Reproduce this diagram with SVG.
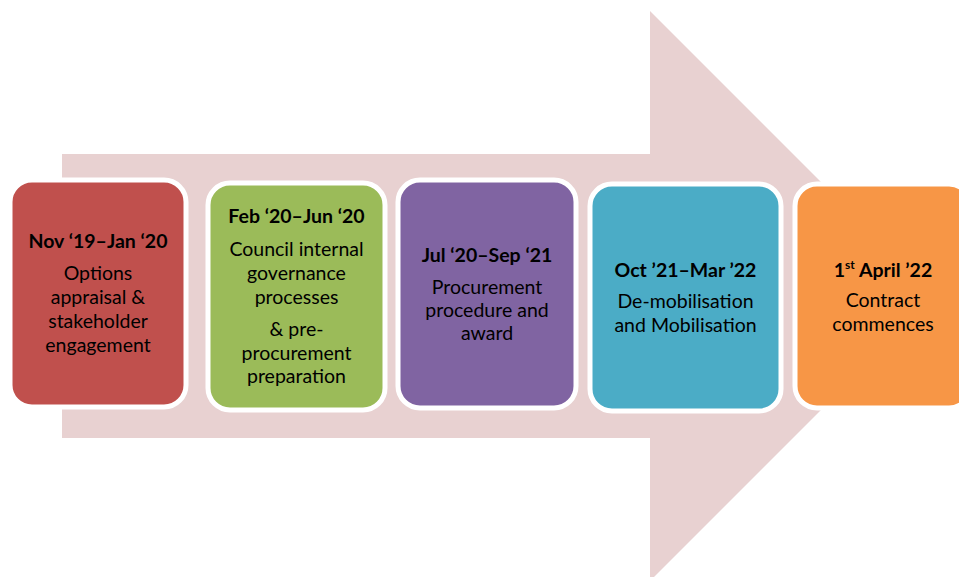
<svg xmlns="http://www.w3.org/2000/svg" width="959" height="577" viewBox="0 0 959 577">
  <style>
    .box { stroke: #ffffff; stroke-width: 5; }
    .t { font-family: Lato, "Liberation Sans", sans-serif; font-size: 19.5px; fill: #000000; text-anchor: middle; }
    .b { font-weight: bold; }
  </style>
  <rect x="0" y="0" width="959" height="577" fill="#ffffff"/>
  <!-- background progress arrow -->
  <g id="arrow">
    <polygon points="62,154 650,154 650,11 935,296 650,581 650,438 62,438" fill="#e8d1d1"/>
  </g>
  <g id="connectors"/>
  <g id="stage1">
    <rect class="box" x="10" y="180" width="176" height="227" rx="22" fill="#c0504d"/>
    <text class="t b" x="98" y="248">Nov ‘19–Jan ‘20</text>
    <text class="t" x="98" y="280">Options</text>
    <text class="t" x="98" y="304">appraisal &amp;</text>
    <text class="t" x="98" y="328">stakeholder</text>
    <text class="t" x="98" y="352">engagement</text>
  </g>
  <g id="stage2">
    <rect class="box" x="208" y="183" width="177" height="227" rx="22" fill="#9bbb59"/>
    <text class="t b" x="296.5" y="223">Feb ‘20–Jun ‘20</text>
    <text class="t" x="296.5" y="256">Council internal</text>
    <text class="t" x="296.5" y="280">governance</text>
    <text class="t" x="296.5" y="304">processes</text>
    <text class="t" x="296.5" y="336">&amp; pre-</text>
    <text class="t" x="296.5" y="360">procurement</text>
    <text class="t" x="296.5" y="383">preparation</text>
  </g>
  <g id="stage3">
    <rect class="box" x="398" y="180" width="178" height="228" rx="22" fill="#8064a2"/>
    <text class="t b" x="487" y="262">Jul ‘20–Sep ‘21</text>
    <text class="t" x="487" y="294">Procurement</text>
    <text class="t" x="487" y="317">procedure and</text>
    <text class="t" x="487" y="340">award</text>
  </g>
  <g id="stage4">
    <rect class="box" x="590" y="184" width="191" height="227" rx="22" fill="#4bacc6"/>
    <text class="t b" x="685.5" y="277">Oct ’21–Mar ’22</text>
    <text class="t" x="685.5" y="308">De-mobilisation</text>
    <text class="t" x="685.5" y="332">and Mobilisation</text>
  </g>
  <g id="stage5">
    <rect class="box" x="795" y="184" width="176" height="224" rx="22" fill="#f79646"/>
    <text class="t b" x="883" y="277">1<tspan font-size="12" dy="-8">st</tspan><tspan dy="8"> April ’22</tspan></text>
    <text class="t" x="883" y="307">Contract</text>
    <text class="t" x="883" y="331">commences</text>
  </g>
</svg>
